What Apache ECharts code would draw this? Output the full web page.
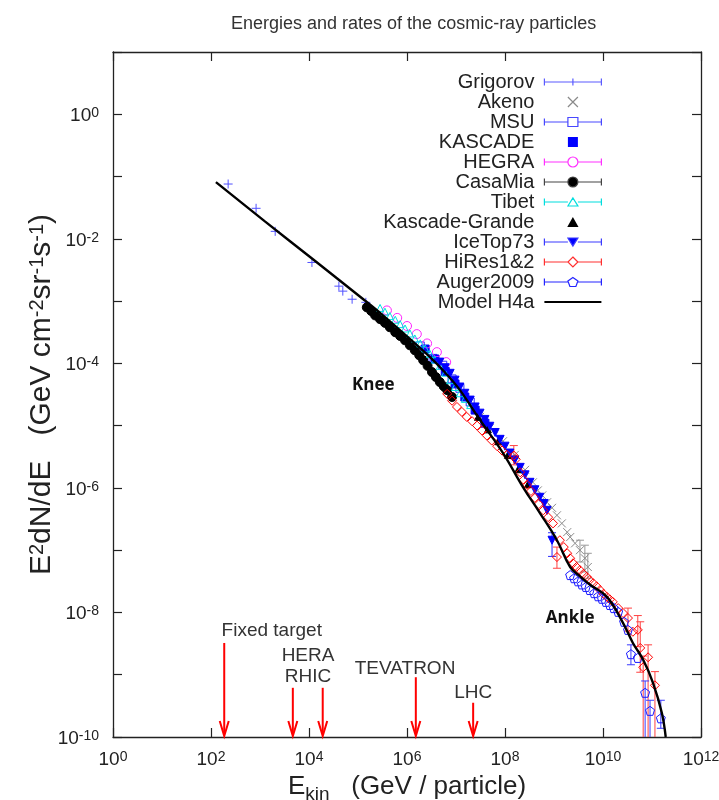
<!DOCTYPE html>
<html><head><meta charset="utf-8">
<script src="https://cdn.jsdelivr.net/npm/echarts@6/dist/echarts.min.js"></script>
<style>html,body{margin:0;padding:0;background:#fff}#c{width:719px;height:800px}</style>
</head><body><div id="c"></div>
<script>
// All values are decimal exponents:
// x = log10(E_kin / GeV), y = log10(E^2 dN/dE / (GeV cm^-2 sr^-1 s^-1))
const xRange = [0, 12];
const yRange = [-10, 1];

const grigorov = [[2.35,-1.12],[2.92,-1.51],[3.31,-1.88],[4.06,-2.38],[4.61,-2.76],[4.69,-2.84],[4.88,-2.97],[5.16,-3.02]];
const akeno = [[7.49,-4.86],[7.69,-5.04],[7.96,-5.25],[8.20,-5.47],[8.41,-5.71],[8.57,-5.91],[8.67,-6.04],[8.76,-6.12],[8.86,-6.23],[8.96,-6.32],[9.06,-6.44],[9.16,-6.57],[9.27,-6.71],[9.33,-6.79],[9.43,-6.89],[9.53,-7.00],[9.63,-7.13],[9.69,-7.27]];
const akenoErr = [[9.53,-7.19,-6.84],[9.63,-7.35,-6.92],[9.69,-7.45,-7.05]];
const msu = [[6.27,-3.72],[6.53,-3.92],[6.73,-4.03],[6.92,-4.25],[7.08,-4.40],[7.29,-4.62]];
const kascade = [[6.37,-3.77],[6.57,-3.93],[6.78,-4.13],[6.98,-4.33],[7.18,-4.54],[7.39,-4.75],[7.59,-4.96]];
const hegra = [[5.59,-3.15],[5.80,-3.27],[6.00,-3.40],[6.20,-3.53],[6.41,-3.68],[6.61,-3.82],[6.80,-3.98]];
const casaMia = [[5.18,-3.10],[5.27,-3.16],[5.35,-3.23],[5.45,-3.29],[5.55,-3.35],[5.65,-3.42],[5.76,-3.50],[5.86,-3.56],[5.96,-3.63],[6.06,-3.71],[6.16,-3.79],[6.25,-3.87],[6.33,-3.95],[6.42,-4.04],[6.51,-4.14],[6.59,-4.22],[6.67,-4.30],[6.75,-4.37],[6.82,-4.43],[6.92,-4.54]];
const tibet = [[5.45,-3.11],[5.55,-3.17],[5.65,-3.24],[5.76,-3.30],[5.86,-3.37],[5.96,-3.44],[6.06,-3.52],[6.16,-3.60],[6.27,-3.68],[6.37,-3.76],[6.47,-3.85],[6.57,-3.94],[6.67,-4.04],[6.78,-4.15],[6.88,-4.27],[6.98,-4.38],[7.08,-4.48],[7.18,-4.57],[7.29,-4.67]];
const kascadeGrande = [[7.45,-4.86],[7.65,-5.06],[7.86,-5.25],[8.06,-5.47],[8.27,-5.70],[8.47,-5.94]];
const iceTop73 = [[6.67,-3.98],[6.78,-4.07],[6.88,-4.16],[6.98,-4.27],[7.08,-4.38],[7.18,-4.48],[7.29,-4.59],[7.39,-4.70],[7.49,-4.80],[7.59,-4.90],[7.69,-5.01],[7.80,-5.11],[7.90,-5.22],[8.00,-5.33],[8.10,-5.44],[8.20,-5.55],[8.31,-5.67],[8.41,-5.79],[8.51,-5.91],[8.61,-6.03],[8.71,-6.15],[8.80,-6.25],[8.86,-6.36],[8.96,-6.84]];
const iceTop73Err = [[8.96,-7.10,-6.72]];
const hiRes = [[6.82,-4.49],[6.92,-4.60],[7.02,-4.70],[7.12,-4.78],[7.22,-4.86],[7.33,-4.93],[7.43,-5.00],[7.53,-5.08],[7.63,-5.16],[7.73,-5.24],[7.84,-5.33],[7.94,-5.40],[8.04,-5.47],[8.18,-5.48],[8.22,-5.54],[8.31,-5.75],[8.38,-5.87],[8.45,-5.95],[8.53,-6.05],[8.61,-6.16],[8.69,-6.26],[8.78,-6.36],[8.88,-6.47],[8.98,-6.57],[9.06,-7.11],[9.12,-6.84],[9.20,-6.95],[9.27,-7.05],[9.33,-7.13],[9.39,-7.21],[9.46,-7.27],[9.53,-7.32],[9.60,-7.38],[9.67,-7.43],[9.73,-7.48],[9.80,-7.53],[9.87,-7.58],[9.94,-7.64],[10.01,-7.70],[10.08,-7.75],[10.14,-7.79],[10.20,-7.83],[10.31,-7.93],[10.41,-8.01],[10.51,-8.09],[10.61,-8.31],[10.71,-8.28],[10.76,-8.57],[10.82,-8.88],[10.92,-8.72],[11.06,-9.17]];
const hiResErr = [[8.18,-5.63,-5.32],[9.06,-7.29,-6.95],[10.51,-8.30,-7.93],[10.71,-8.55,-8.05],[10.76,-8.96,-8.15],[10.82,-10.5,-8.70],[10.92,-10.5,-8.52],[11.06,-10.5,-8.95]];
const auger2009 = [[9.33,-7.40],[9.41,-7.45],[9.49,-7.50],[9.57,-7.55],[9.65,-7.59],[9.73,-7.64],[9.82,-7.69],[9.90,-7.74],[9.98,-7.78],[10.06,-7.83],[10.14,-7.88],[10.22,-7.93],[10.31,-7.99],[10.43,-8.15],[10.51,-8.28],[10.57,-8.67],[10.71,-8.73],[10.86,-9.29],[10.96,-9.58],[11.18,-9.70]];
const auger2009Err = [[10.57,-8.84,-8.52],[10.86,-10.5,-9.10],[10.96,-10.5,-9.41],[11.18,-9.86,-9.41]];
const modelH4a = [[2.10,-1.09],[3.10,-1.72],[4.10,-2.34],[5.14,-2.99],[5.45,-3.19],[5.96,-3.54],[6.47,-3.90],[6.78,-4.15],[7.08,-4.43],[7.49,-4.91],[7.96,-5.44],[8.37,-5.99],[8.71,-6.40],[9.06,-6.84],[9.33,-7.27],[9.53,-7.42],[9.73,-7.55],[10.08,-7.75],[10.41,-8.17],[10.61,-8.49],[10.82,-8.76],[11.02,-9.13],[11.20,-9.61],[11.28,-10.0]];

// accelerator arrows: energy and arrow start
const accelArrows = [[2.27,-8.49],[3.67,-9.21],[4.28,-9.21],[6.18,-9.04],[7.35,-9.45]];
const accelLabelText = ['Fixed target', 'HERA\nRHIC', 'TEVATRON', 'LHC'];
const accelLabelPos = [[3.24,-8.30],[3.98,-8.87],[5.96,-8.91],[7.35,-9.29]];
const regionLabelText = ['Knee', 'Ankle'];
const regionLabelPos = [[5.31,-4.35],[9.33,-8.09]];

const FONT = '"Liberation Sans", Arial, Helvetica, sans-serif';
const AX = '#222';
const SYM = {
  plus: 'path://M5 0 L5 10 M0 5 L10 5',
  cross: 'path://M0 0 L10 10 M10 0 L0 10',
  pentagon: 'path://M5 0 L10 3.6 L8.1 9.5 L1.9 9.5 L0 3.6 Z'
};
const CAPS = 'M0 1.5 L0 8.5 M57 1.5 L57 8.5 ';
const SIDES = 'M0 5 L23.5 5 M33.5 5 L57 5 ';

function errSeries(data, color) {
  return {
    type: 'custom', data: data, encode: {x: 0, y: [1, 2]}, silent: true,
    renderItem: function (params, api) {
      const x = api.value(0), lo = api.value(1), hi = api.value(2);
      const p1 = api.coord([x, Math.max(lo, yRange[0])]);
      const p2 = api.coord([x, Math.min(hi, yRange[1])]);
      const st = {stroke: color, lineWidth: 1};
      const ch = [{type: 'line', shape: {x1: p1[0], y1: p1[1], x2: p2[0], y2: p2[1]}, style: st}];
      if (lo >= yRange[0]) ch.push({type: 'line', shape: {x1: p1[0]-4, y1: p1[1], x2: p1[0]+4, y2: p1[1]}, style: st});
      ch.push({type: 'line', shape: {x1: p2[0]-4, y1: p2[1], x2: p2[0]+4, y2: p2[1]}, style: st});
      return {type: 'group', children: ch};
    }
  };
}
function sc(name, data, symbol, size, color, hollow, rotate) {
  return {
    name: name, type: 'scatter', data: data, symbol: symbol, symbolSize: size,
    symbolRotate: rotate || 0, silent: true,
    itemStyle: {color: hollow ? 'rgba(0,0,0,0)' : color, borderColor: color, borderWidth: 1, opacity: 1}
  };
}
function supLabel(v) { return '{b|10}{s|' + v + '}'; }
const richLab = {
  b: {fontSize: 19, lineHeight: 26, verticalAlign: 'top', fontFamily: FONT, color: AX},
  s: {fontSize: 14, lineHeight: 14, verticalAlign: 'top', fontFamily: FONT, color: AX}
};

const legendItems = [
  {name: 'Grigorov', icon: 'path://' + CAPS + 'M0 5 L57 5 M28.5 1.5 L28.5 8.5', itemStyle: {color: 'rgba(0,0,0,0)', borderColor: '#5b5bff', borderWidth: 1.2}},
  {name: 'Akeno', icon: 'path://M24.5 1 L32.5 9 M32.5 1 L24.5 9', itemStyle: {color: 'rgba(0,0,0,0)', borderColor: '#8a8a8a', borderWidth: 1.2}},
  {name: 'MSU', icon: 'path://' + CAPS + SIDES + 'M23.5 0.5 L33.5 0.5 L33.5 9.5 L23.5 9.5 Z', itemStyle: {color: 'rgba(0,0,0,0)', borderColor: '#4848ff', borderWidth: 1.2}},
  {name: 'KASCADE', icon: 'path://M24 1 L33 1 L33 10 L24 10 Z', itemStyle: {color: '#0000ff', borderColor: '#0000ff', borderWidth: 0}},
  {name: 'HEGRA', icon: 'path://' + CAPS + SIDES + 'M33.5 5 A5 5 0 1 1 23.5 5 A5 5 0 1 1 33.5 5 Z', itemStyle: {color: 'rgba(0,0,0,0)', borderColor: '#ff30ff', borderWidth: 1.2}},
  {name: 'CasaMia', icon: 'path://' + CAPS + SIDES + 'M33.5 5 A5 5 0 1 1 23.5 5 A5 5 0 1 1 33.5 5 Z', itemStyle: {color: '#000', borderColor: '#444', borderWidth: 1.2}},
  {name: 'Tibet', icon: 'path://' + CAPS + SIDES + 'M23.5 9 L28.5 1 L33.5 9 Z', itemStyle: {color: 'rgba(0,0,0,0)', borderColor: '#00dede', borderWidth: 1.2}},
  {name: 'Kascade-Grande', icon: 'path://M24 9 L28.5 1 L33 9 Z', itemStyle: {color: '#000', borderColor: '#000', borderWidth: 0}},
  {name: 'IceTop73', icon: 'path://' + CAPS + SIDES + 'M23.5 1 L33.5 1 L28.5 9 Z', itemStyle: {color: '#0000ff', borderColor: '#3b3bff', borderWidth: 1.2}},
  {name: 'HiRes1&2', icon: 'path://' + CAPS + SIDES + 'M28.5 0 L33.5 5 L28.5 10 L23.5 5 Z', itemStyle: {color: 'rgba(0,0,0,0)', borderColor: '#ff3030', borderWidth: 1.2}},
  {name: 'Auger2009', icon: 'path://' + CAPS + SIDES + 'M28.5 0.5 L33.5 4 L31.5 9.5 L25.5 9.5 L23.5 4 Z', itemStyle: {color: 'rgba(0,0,0,0)', borderColor: '#2525ff', borderWidth: 1.2}},
  {name: 'Model H4a', icon: 'path://M0 4 L57 4 L57 6.2 L0 6.2 Z', itemStyle: {color: '#000', borderColor: '#000', borderWidth: 0}}
];

const chart = echarts.init(document.getElementById('c'), null, {renderer: 'canvas'});
const axisCommon = {
  type: 'value', axisLine: {onZero: false, lineStyle: {color: AX, width: 1.3}},
  axisTick: {inside: true, length: 9, lineStyle: {color: AX, width: 1.2}},
  splitLine: {show: false}
};
chart.setOption({
  animation: false,
  backgroundColor: '#fff',
  title: {text: 'Energies and rates of the cosmic-ray particles', left: 226, top: 10,
    textStyle: {fontSize: 18, fontWeight: 'normal', color: '#333', fontFamily: FONT}},
  grid: {left: 113, right: 18, top: 52, bottom: 63, show: false, containLabel: false, outerBoundsMode: 'none'},
  legend: {
    orient: 'vertical', right: 117, top: 72, padding: 0, align: 'right', itemWidth: 57, itemHeight: 10,
    itemGap: 0, symbolKeepAspect: true, selectedMode: false,
    textStyle: {fontSize: 20, lineHeight: 20, color: '#222', fontFamily: FONT, padding: [0, 5, 0, 0]},
    data: legendItems
  },
  xAxis: [
    Object.assign({}, axisCommon, {position: 'bottom', min: xRange[0], max: xRange[1], interval: 2,
      axisLabel: {formatter: supLabel, rich: richLab, margin: 13},
      name: '{m|E}{sub|kin}{m|   (GeV / particle)}', nameLocation: 'middle', nameGap: 31,
      nameTextStyle: {rich: {
        m: {fontSize: 26, lineHeight: 30, verticalAlign: 'top', fontFamily: FONT, color: '#222'},
        sub: {fontSize: 19, lineHeight: 19, verticalAlign: 'top', padding: [11, 0, 0, 0], fontFamily: FONT, color: '#222'}
      }}}),
    Object.assign({}, axisCommon, {position: 'top', min: xRange[0], max: xRange[1], interval: 2,
      axisLabel: {show: false}})
  ],
  yAxis: [
    Object.assign({}, axisCommon, {position: 'left', min: yRange[0], max: yRange[1], interval: 1,
      axisLabel: {formatter: function (v) { return Math.round(v) % 2 === 0 ? supLabel(Math.round(v)) : ''; }, rich: richLab, margin: 14, padding: [10, 0, 0, 0]},
      name: '{m|E}{s|2}{m|dN/dE   (GeV cm}{s|-2}{m|sr}{s|-1}{m|s}{s|-1}{m|)}', nameLocation: 'middle', nameGap: 48,
      nameMoveOverlap: false,
      nameTextStyle: {rich: {
        m: {fontSize: 30, lineHeight: 38, verticalAlign: 'top', fontFamily: FONT, color: '#222'},
        s: {fontSize: 20, lineHeight: 20, verticalAlign: 'top', fontFamily: FONT, color: '#222'}
      }}}),
    Object.assign({}, axisCommon, {position: 'right', min: yRange[0], max: yRange[1], interval: 1,
      axisLabel: {show: false}})
  ],
  series: [
    sc('Grigorov', grigorov, SYM.plus, 9, '#5050ff', false),
    errSeries(akenoErr, '#999'),
    sc('Akeno', akeno, SYM.cross, 8, '#8a8a8a', false),
    sc('MSU', msu, 'rect', 8, '#3030ff', true),
    sc('KASCADE', kascade, 'rect', 8, '#0000ff', false),
    sc('HEGRA', hegra, 'circle', 9, '#ff20ff', true),
    sc('CasaMia', casaMia, 'circle', 9, '#000', false),
    sc('Tibet', tibet, 'triangle', 7, '#00e0e0', true),
    sc('Kascade-Grande', kascadeGrande, 'triangle', 7, '#000', false),
    errSeries(iceTop73Err, '#2a2aff'),
    sc('IceTop73', iceTop73, 'triangle', 8, '#0000ff', false, 180),
    errSeries(hiResErr, '#ff4040'),
    sc('HiRes1&2', hiRes, 'diamond', 9, '#ff0000', true),
    errSeries(auger2009Err, '#3a3aff'),
    sc('Auger2009', auger2009, SYM.pentagon, 9, '#1a1aff', true),
    {name: 'Model H4a', type: 'line', data: modelH4a, smooth: 0.4, symbol: 'none', silent: true,
      lineStyle: {color: '#000', width: 2.4}, itemStyle: {color: '#000'}},
    {type: 'custom', data: accelArrows, encode: {x: 0, y: 1}, silent: true,
      renderItem: function (params, api) {
        const top = api.coord([api.value(0), api.value(1)]);
        const tip = api.coord([api.value(0), yRange[0]]);
        tip[1] -= 1;
        return {type: 'group', children: [
          {type: 'line', shape: {x1: top[0], y1: top[1], x2: tip[0], y2: tip[1] - 2}, style: {stroke: '#ff0000', lineWidth: 2}},
          {type: 'polyline', shape: {points: [[tip[0]-4.5, tip[1]-15], [tip[0], tip[1]], [tip[0]+4.5, tip[1]-15]]},
            style: {stroke: '#ff0000', lineWidth: 2, fill: 'none'}}
        ]};
      }},
    {type: 'custom', data: accelLabelPos, encode: {x: 0, y: 1}, silent: true,
      renderItem: function (params, api) {
        const p = api.coord([api.value(0), api.value(1)]);
        return {type: 'text', x: p[0], y: p[1], style: {text: accelLabelText[params.dataIndex], fill: '#333',
          fontSize: 19, fontFamily: FONT, lineHeight: 21, align: 'center', verticalAlign: 'middle'}};
      }},
    {type: 'custom', data: regionLabelPos, encode: {x: 0, y: 1}, silent: true,
      renderItem: function (params, api) {
        const p = api.coord([api.value(0), api.value(1)]);
        return {type: 'text', x: p[0], y: p[1], style: {text: regionLabelText[params.dataIndex], fill: '#111',
          fontSize: 17, fontWeight: 'bold', fontFamily: '"Open Sans", "Liberation Sans", sans-serif', align: 'center', verticalAlign: 'middle'}};
      }}
  ]
});
</script></body></html>
